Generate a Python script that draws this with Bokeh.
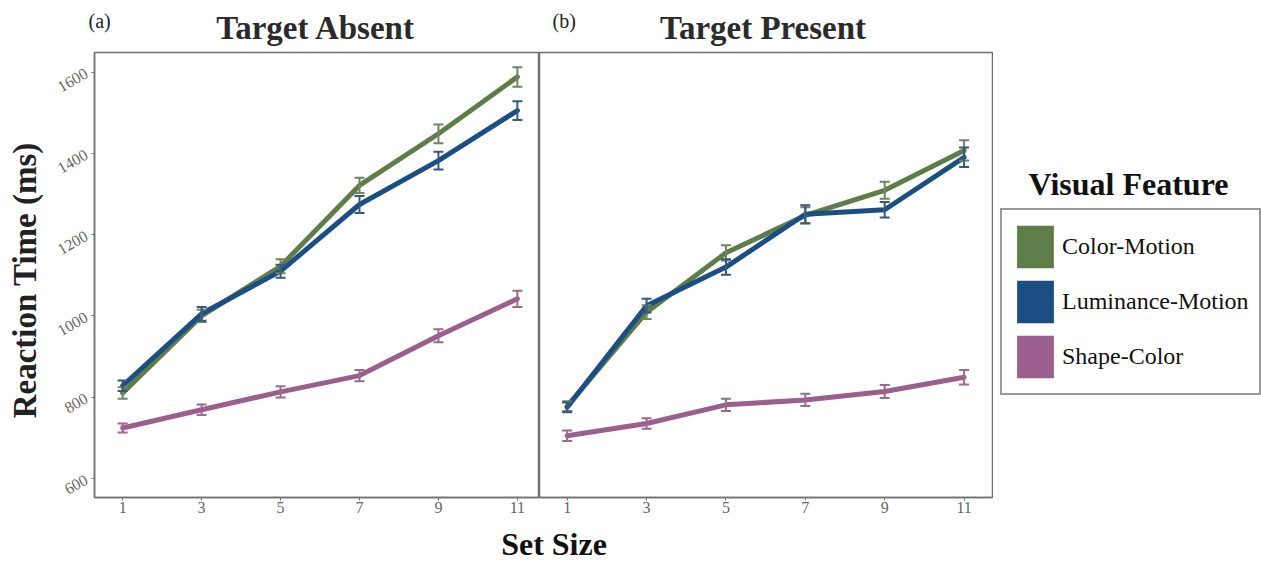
import math
from bokeh.plotting import figure
from bokeh.models import (ColumnDataSource, Whisker, TeeHead, Label, Legend,
                          LegendItem, FixedTicker, Range1d)
from bokeh.layouts import row, column
from bokeh.embed import file_html
from bokeh.resources import INLINE

# ---------------- data ----------------
set_size = [1, 3, 5, 7, 9, 11]
features = ["Color-Motion", "Luminance-Motion", "Shape-Color"]

absent_color_motion = [810, 1000, 1122, 1321, 1448, 1588]
absent_lum_motion = [828, 1005, 1110, 1274, 1382, 1505]
absent_shape_color = [724, 769, 813, 853, 951, 1042]
absent_color_motion_err = [14, 15, 17, 19, 23, 24]
absent_lum_motion_err = [13, 17, 16, 21, 22, 23]
absent_shape_color_err = [11, 13, 14, 14, 16, 20]

present_color_motion = [778, 1009, 1155, 1247, 1309, 1407]
present_lum_motion = [775, 1025, 1120, 1250, 1261, 1390]
present_shape_color = [705, 735, 781, 793, 814, 849]
present_color_motion_err = [12, 17, 19, 20, 21, 25]
present_lum_motion_err = [12, 17, 19, 22, 19, 24]
present_shape_color_err = [13, 13, 15, 15, 16, 18]

x_ticks = [1, 3, 5, 7, 9, 11]
y_ticks = [600, 800, 1000, 1200, 1400, 1600]

# ---------------- style ----------------
SERIF = "Liberation Serif"
LINE_COLORS = ["#5F7D48", "#1B4F84", "#9B5F8E"]
ERR_COLORS = ["#6F8560", "#36597E", "#9A6B8C"]
FRAME = "#707070"
Y0, Y1 = 553, 1648
TOP_H = 51            # strip with panel titles
ROW_H = 471           # panel row (frame from 52 to 497 on the page)
BOT_H = 562 - TOP_H - ROW_H
LEFT_W = 50           # strip holding the y-axis title


def blank(width, height):
    f = figure(width=width, height=height, x_range=Range1d(0, width),
               y_range=Range1d(0, height), output_backend="svg",
               toolbar_location=None, x_axis_location=None,
               y_axis_location=None, min_border=0)
    f.grid.grid_line_color = None
    f.outline_line_color = None
    f.background_fill_color = "white"
    f.border_fill_color = "white"
    return f


def make_panel(width, min_left, min_right, x0, x1, series, errs, show_y):
    p = figure(width=width, height=ROW_H, x_range=Range1d(x0, x1),
               y_range=Range1d(Y0, Y1), output_backend="svg",
               toolbar_location=None, min_border_left=min_left,
               min_border_right=min_right, min_border_top=1,
               min_border_bottom=ROW_H - 1 - 445,
               y_axis_location="left" if show_y else None)
    p.grid.grid_line_color = None
    p.outline_line_color = FRAME
    p.outline_line_width = 1.5
    p.background_fill_color = "white"
    p.border_fill_color = "white"

    ax = p.xaxis[0]
    ax.ticker = FixedTicker(ticks=x_ticks)
    ax.axis_line_color = FRAME
    ax.axis_line_width = 1.5
    ax.major_tick_line_color = FRAME
    ax.major_tick_out = 3
    ax.major_tick_in = 0
    ax.minor_tick_line_color = None
    ax.major_label_text_font = SERIF
    ax.major_label_text_font_size = "16px"
    ax.major_label_text_color = "#666666"
    ax.major_label_standoff = 1

    if show_y:
        ay = p.yaxis[0]
        ay.ticker = FixedTicker(ticks=y_ticks)
        ay.axis_line_color = FRAME
        ay.axis_line_width = 1.5
        ay.major_tick_line_color = FRAME
        ay.major_tick_out = 3
        ay.major_tick_in = 0
        ay.minor_tick_line_color = None
        ay.major_label_text_font = SERIF
        ay.major_label_text_font_size = "16px"
        ay.major_label_text_color = "#666666"
        ay.major_label_orientation = 0.52
        ay.major_label_standoff = 5

    for vals, err, lc, ec in zip(series, errs, LINE_COLORS, ERR_COLORS):
        src = ColumnDataSource(dict(
            x=set_size, y=vals,
            upper=[v + e for v, e in zip(vals, err)],
            lower=[v - e for v, e in zip(vals, err)]))
        p.line("x", "y", source=src, line_width=5, line_color=lc,
               line_join="round", line_cap="round")
        w = Whisker(source=src, base="x", upper="upper", lower="lower",
                    line_color=ec, line_width=2, level="overlay",
                    upper_head=TeeHead(size=10, line_color=ec, line_width=2),
                    lower_head=TeeHead(size=10, line_color=ec, line_width=2))
        p.add_layout(w)
    return p


# panel (a): frame from page x=92 to 539
pa = make_panel(539 - LEFT_W, 92 - LEFT_W, 0, 0.287, 11.56,
                [absent_color_motion, absent_lum_motion, absent_shape_color],
                [absent_color_motion_err, absent_lum_motion_err, absent_shape_color_err],
                True)
# panel (b): frame from page x=539 to 992
pb = make_panel(454, 0, 1, 0.302, 11.716,
                [present_color_motion, present_lum_motion, present_shape_color],
                [present_color_motion_err, present_lum_motion_err, present_shape_color_err],
                False)

# title strip (page y 0..51)
top = blank(993, TOP_H)
for txt, cx in [("Target Absent", 315.5), ("Target Present", 762.5)]:
    top.add_layout(Label(x=cx, y=TOP_H - 27, text=txt, text_align="center",
                         text_baseline="middle", text_font=SERIF,
                         text_font_style="bold", text_font_size="33px",
                         text_color="#2b2b2b"))
for txt, lx in [("(a)", 88), ("(b)", 552)]:
    top.add_layout(Label(x=lx, y=TOP_H - 20, text=txt, text_align="left",
                         text_baseline="middle", text_font=SERIF,
                         text_font_size="20px", text_color="#222222"))

# y-axis title strip
left = blank(LEFT_W, ROW_H)
left.add_layout(Label(x=24, y=TOP_H + ROW_H - 292, text="Reaction Time (ms)",
                      angle=math.pi / 2, text_align="center",
                      text_baseline="middle", text_font=SERIF,
                      text_font_style="bold", text_font_size="33px",
                      text_color="#222222"))

# x-axis title strip (page y 522..562)
bottom = blank(993, BOT_H)
bottom.add_layout(Label(x=553.5, y=562 - 543, text="Set Size",
                        text_align="center", text_baseline="middle",
                        text_font=SERIF, text_font_style="bold",
                        text_font_size="32px", text_color="#111111"))

# legend column (page x 993..1261)
pl = blank(268, 562)
series_a = [absent_color_motion, absent_lum_motion, absent_shape_color]
items = []
for f, c, vals in zip(features, LINE_COLORS, series_a):
    r = pl.vbar(x=set_size, top=vals, width=0.5, fill_color=c,
                line_color=None, visible=False)
    items.append(LegendItem(label=f, renderers=[r]))
legend = Legend(items=items, location=(1000 - 993, 562 - 395),
                orientation="vertical", glyph_width=46, glyph_height=53,
                spacing=2, padding=10, label_standoff=4, margin=0,
                label_text_font=SERIF, label_text_font_size="24px",
                label_text_color="#111111", border_line_color="#333333",
                border_line_width=2, background_fill_color="white",
                background_fill_alpha=1)
pl.add_layout(legend)
pl.add_layout(Label(x=1128 - 993, y=562 - 183.5, text="Visual Feature",
                    text_align="center", text_baseline="middle",
                    text_font=SERIF, text_font_style="bold",
                    text_font_size="32px", text_color="#111111"))

layout = row(column(top, row(left, pa, pb), bottom), pl)
open("out.html", "w").write(file_html(layout, INLINE))
